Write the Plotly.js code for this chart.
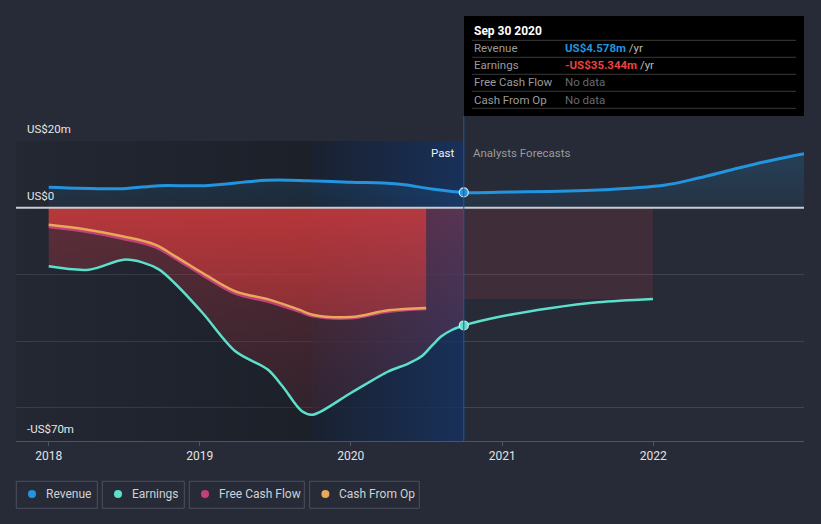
<!DOCTYPE html>
<html>
<head>
<meta charset="utf-8">
<script src="https://cdn.plot.ly/plotly-3.0.1.min.js"></script>
<style>
html,body{margin:0;padding:0;background:#262b37;}
#chart{width:821px;height:524px;}
</style>
</head>
<body>
<div id="chart"></div>
<script>
// ---------- data (US$ millions) ----------
const revenueDatesPast = ['2018-01-01','2018-06-28','2018-09-25','2019-01-15','2019-06-10','2019-09-20','2020-01-01','2020-03-20','2020-05-10','2020-07-15','2020-09-30'];
const revenuePast      = [6.1, 5.7, 6.6, 6.6, 8.2, 8.1, 7.6, 7.4, 6.9, 5.6, 4.578];
const revenueDatesFc   = ['2020-09-30','2021-01-25','2021-08-20','2022-01-30','2022-04-20','2022-07-10','2022-09-25','2022-12-31'];
const revenueFc        = [4.578, 4.7, 5.3, 6.8, 8.9, 11.4, 13.7, 16.2];

const earningsDatesPast = ['2018-01-01','2018-04-08','2018-07-01','2018-08-15','2018-09-25','2018-11-01','2019-01-08','2019-03-28','2019-06-15','2019-07-20','2019-09-05','2019-10-01','2020-01-01','2020-04-01','2020-05-15','2020-06-20','2020-07-15','2020-08-07','2020-09-01','2020-09-30'];
const earningsPast      = [-17.6, -18.6, -15.6, -16.4, -18.6, -22.6, -31.6, -43.1, -48.6, -53.6, -61.1, -62.1, -55.6, -49.1, -47.0, -44.6, -41.4, -38.6, -36.7, -35.344];
const earningsDatesFc   = ['2020-09-30','2020-12-31','2021-04-30','2021-08-20','2021-12-31'];
const earningsFc        = [-35.344, -32.6, -30.1, -28.4, -27.4];

const cashDates   = ['2018-01-01','2018-03-25','2018-06-28','2018-09-15','2018-11-03','2019-01-08','2019-03-28','2019-06-18','2019-08-29','2019-10-01','2020-01-01','2020-04-01','2020-07-01'];
const freeCashFlow = [-5.8, -7.1, -9.3, -11.8, -15.3, -20.3, -25.8, -28.3, -31.2, -32.6, -33.2, -31.2, -30.4];
const cashFromOp   = [-5.1, -6.4, -8.6, -11.1, -14.6, -19.6, -25.1, -27.6, -30.6, -32.1, -32.8, -30.8, -30.1];

const yearTicks = ['2018-01-01','2019-01-01','2020-01-01','2021-01-01','2022-01-01'];
const yearLabels = ['2018','2019','2020','2021','2022'];
const yLabelVals = [20, 0, -70];
const yLabelText = ['US$20m', 'US$0', '-US$70m'];
const gridVals = [20, -20, -40, -60];

const tipDate = 'Sep 30 2020';
const tipRows = ['Revenue', 'Earnings', 'Free Cash Flow', 'Cash From Op'];
const tipValues = ['US$4.578m', '-US$35.344m', null, null];
const seriesNames = ['Revenue', 'Earnings', 'Free Cash Flow', 'Cash From Op'];

// ---------- style ----------
const C = {
  bg: '#262b37', rev: '#2394df', earn: '#5de0cb', fcf: '#c2417a', cfo: '#e8a95b',
  text: '#e6e6e6', dim: '#9a9a9a', grid: '#3e4450', axis: '#4e5462'
};
const xRange = ['2017-10-14', '2022-12-31'];
const yRange = [-70, 20];
const L = 16, R = 804, T = 141, B = 441;
const X = px => (px - L) / (R - L);
const Y = py => (B - py) / (B - T);
const lastPast = revenueDatesPast[revenueDatesPast.length - 1];
const yearBefore = (d => { const t = new Date(d); t.setFullYear(t.getFullYear() - 1); return t.toISOString().slice(0,10); })(lastPast);

const traces = [];
// past darkening background
traces.push({x:[xRange[0], yearBefore, yearBefore, xRange[0]], y:[yRange[0], yRange[0], yRange[1], yRange[1]],
  mode:'none', fill:'toself', hoverinfo:'skip', showlegend:false,
  fillgradient:{type:'horizontal', colorscale:[[0,'rgba(0,0,0,0.08)'],[1,'rgba(0,0,0,0.26)']]}});
// last year blue band
traces.push({x:[yearBefore, lastPast, lastPast, yearBefore], y:[yRange[0], yRange[0], yRange[1], yRange[1]],
  mode:'none', fill:'toself', hoverinfo:'skip', showlegend:false,
  fillgradient:{type:'horizontal', colorscale:[[0,'rgba(22,30,45,0.75)'],[1,'rgba(20,50,100,0.78)']]}});
// revenue fill
const revX = revenueDatesPast.concat(revenueDatesFc.slice(1));
const revY = revenuePast.concat(revenueFc.slice(1));
traces.push({x:revX, y:revY, mode:'none', fill:'tozeroy', line:{shape:'spline', smoothing:1}, hoverinfo:'skip', showlegend:false,
  fillgradient:{type:'vertical', colorscale:[[0,'rgba(35,148,223,0.07)'],[1,'rgba(35,148,223,0.2)']]}});
// earnings past fill
traces.push({x:earningsDatesPast, y:earningsPast, mode:'none', fill:'tozeroy', line:{shape:'spline', smoothing:1}, hoverinfo:'skip', showlegend:false,
  fillgradient:{type:'vertical', colorscale:[[0,'rgba(200,55,70,0.12)'],[1,'rgba(210,60,70,0.34)']]}});
// earnings forecast band
const earnBandTop = Math.max(...earningsFc);
traces.push({x:earningsDatesFc, y:earningsFc.map(() => earnBandTop), mode:'none', fill:'tozeroy', hoverinfo:'skip', showlegend:false,
  fillcolor:'rgba(200,60,75,0.16)'});
// free cash flow fill + line
traces.push({x:cashDates, y:freeCashFlow, mode:'lines', name:'Free Cash Flow', fill:'tozeroy', line:{color:C.fcf, width:2.5, shape:'spline', smoothing:1},
  fillgradient:{type:'vertical', colorscale:[[0,'rgba(220,60,60,0.45)'],[1,'rgba(225,60,60,0.68)']]}, showlegend:false});
// cash from op line
traces.push({x:cashDates, y:cashFromOp, mode:'lines', name:'Cash From Op', line:{color:C.cfo, width:2.5, shape:'spline', smoothing:1}, showlegend:false});
// earnings line
traces.push({x:earningsDatesPast.concat(earningsDatesFc.slice(1)), y:earningsPast.concat(earningsFc.slice(1)), mode:'lines', name:'Earnings',
  line:{color:C.earn, width:2.5, shape:'spline', smoothing:0.9}, showlegend:false});
// revenue line
traces.push({x:revX, y:revY, mode:'lines', name:'Revenue', line:{color:C.rev, width:3, shape:'spline', smoothing:1}, showlegend:false});
// markers at last reported point
traces.push({x:[lastPast], y:[revenuePast[revenuePast.length-1]], mode:'markers', marker:{size:9, color:C.rev, line:{color:'#dfe8f0', width:1.2}}, showlegend:false, hoverinfo:'skip'});
traces.push({x:[lastPast], y:[earningsPast[earningsPast.length-1]], mode:'markers', marker:{size:9, color:C.earn, line:{color:'#dfe8f0', width:1.2}}, showlegend:false, hoverinfo:'skip'});

const shapes = [];
const annotations = [];
// zero line
shapes.push({type:'line', xref:'paper', yref:'y', x0:0, x1:1, y0:0, y1:0, line:{color:'#c9cbd0', width:2}, layer:'above'});
// divider line
shapes.push({type:'line', xref:'x', yref:'paper', x0:lastPast, x1:lastPast, y0:0, y1:Y(116), line:{color:'#1d5aa0', width:1}, layer:'above'});
// y labels
yLabelVals.forEach((v, i) => annotations.push({xref:'paper', yref:'y', x:X(25), y:v, xanchor:'left', yanchor:'middle', yshift:12,
  text:yLabelText[i], showarrow:false, font:{size:11.5, color:C.text}}));
// past / forecast labels
annotations.push({xref:'x', yref:'paper', x:lastPast, y:Y(153), xanchor:'right', yanchor:'middle', xshift:-8, text:'Past', showarrow:false, font:{size:11.5, color:'#f0f0f0'}});
annotations.push({xref:'x', yref:'paper', x:lastPast, y:Y(153), xanchor:'left', yanchor:'middle', xshift:7, text:'Analysts Forecasts', showarrow:false, font:{size:11.5, color:C.dim}});
// tooltip box
shapes.push({type:'rect', xref:'paper', yref:'paper', x0:X(464), x1:X(804), y0:Y(116), y1:Y(16), fillcolor:'#000000', line:{width:0}, layer:'above'});
[40.3, 57.3, 74.3, 91.3, 108.3].forEach(py => shapes.push({type:'line', xref:'paper', yref:'paper', x0:X(472), x1:X(796), y0:Y(py), y1:Y(py), line:{color:'#3a3a3a', width:1}, layer:'above'}));
annotations.push({xref:'paper', yref:'paper', x:X(472), y:Y(31), xanchor:'left', yanchor:'middle', text:'<b>'+tipDate+'</b>', showarrow:false, font:{size:12, color:'#ffffff'}});
const tipColors = [C.rev, '#e8433f'];
tipRows.forEach((r, i) => {
  const py = 48 + i * 17.2;
  annotations.push({xref:'paper', yref:'paper', x:X(472), y:Y(py), xanchor:'left', yanchor:'middle', text:r, showarrow:false, font:{size:11.5, color:'#9b9b9b'}});
  const val = tipValues[i] === null ? '<span style="color:#666a70">No data</span>'
    : '<b><span style="color:'+tipColors[i]+'">'+tipValues[i]+'</span></b><span style="color:#bcbcbc"> /yr</span>';
  annotations.push({xref:'paper', yref:'paper', x:X(563), y:Y(py), xanchor:'left', yanchor:'middle', text:val, showarrow:false, font:{size:11.5, color:'#9b9b9b'}});
});
// legend boxes
const legBoxes = [[16.3,97.3],[102.3,184.3],[189.3,304.3],[309.7,419.3]];
const legColors = [C.rev, C.earn, C.fcf, C.cfo];
legBoxes.forEach((b, i) => {
  shapes.push({type:'rect', xref:'paper', yref:'paper', x0:X(b[0]), x1:X(b[1]), y0:Y(508.3), y1:Y(481.3), line:{color:'#4b515c', width:1}, fillcolor:'rgba(0,0,0,0)'});
  shapes.push({type:'circle', xref:'paper', yref:'paper', x0:X(b[0]+11.7), x1:X(b[0]+19.7), y0:Y(498), y1:Y(490), line:{width:0}, fillcolor:legColors[i]});
  annotations.push({xref:'paper', yref:'paper', x:X(b[0]+27.5), y:Y(494.5), xanchor:'left', yanchor:'middle', text:seriesNames[i], showarrow:false, font:{size:12, color:'#cfd1d5'}});
});

const layout = {
  width:821, height:524, autosize:false,
  margin:{l:L, r:821-R, t:T, b:524-B, pad:0},
  paper_bgcolor:C.bg, plot_bgcolor:C.bg,
  font:{family:'Roboto, "Open Sans", sans-serif', color:C.text},
  hovermode:false, showlegend:false,
  xaxis:{type:'date', range:xRange, tickvals:yearTicks, ticktext:yearLabels, showgrid:false, zeroline:false,
    showline:true, linecolor:C.axis, linewidth:1, ticks:'outside', ticklen:4, tickcolor:C.axis,
    tickfont:{size:12, color:'#e3e3e3'}, fixedrange:true},
  yaxis:{range:yRange, tickvals:gridVals, showticklabels:false, showgrid:true, gridcolor:C.grid, gridwidth:1,
    zeroline:false, showline:false, ticks:'', fixedrange:true},
  shapes:shapes, annotations:annotations
};
Plotly.newPlot('chart', traces, layout, {displayModeBar:false, staticPlot:true});
</script>
</body>
</html>
